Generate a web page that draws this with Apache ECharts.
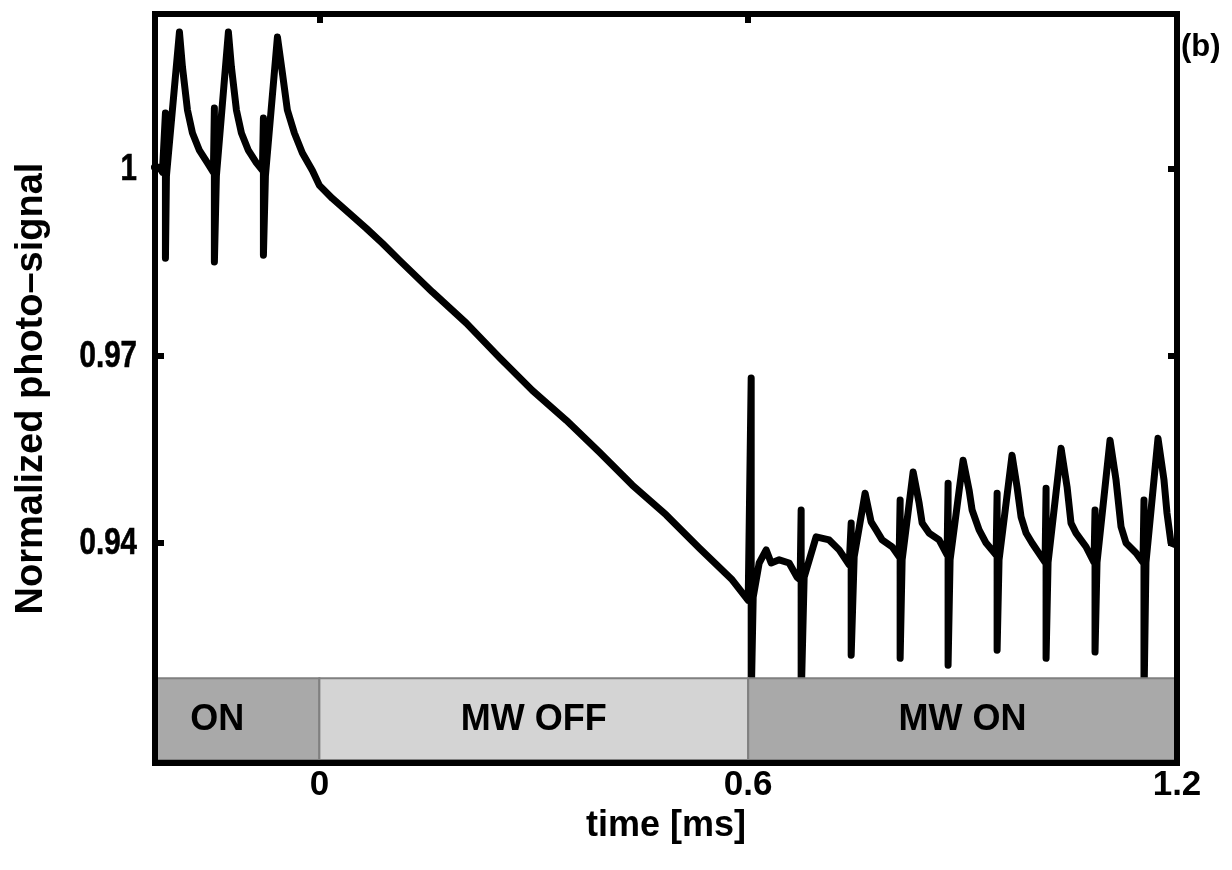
<!DOCTYPE html>
<html><head><meta charset="utf-8">
<script src="https://cdn.jsdelivr.net/npm/echarts@6/dist/echarts.min.js"></script>
<style>html,body{margin:0;padding:0;background:#fff}#c{width:1232px;height:870px}</style>
</head><body><div id="c"></div>
<script>
// time [ms]
const timeMs = [
  -0.2308,-0.2238,-0.2196,-0.2154,-0.2154,-0.2140,-0.1958,-0.1916,-0.1846,-0.1776,-0.1678,-0.1566,-0.1483,
  -0.1469,-0.1469,-0.1441,-0.1273,-0.1231,-0.1161,-0.1091,-0.0993,-0.0881,-0.0797,
  -0.0783,-0.0783,-0.0755,-0.0587,-0.0517,-0.0448,-0.0350,-0.0238,-0.0098,
  0.0000,0.0182,0.0420,0.0657,0.0881,0.1119,0.1580,0.2056,0.2517,0.2979,0.3455,0.3916,0.4378,0.4853,0.5315,0.5776,0.6000,
  0.6042,0.6042,0.6070,0.6154,0.6252,0.6322,0.6434,0.6573,0.6685,0.6727,
  0.6741,0.6741,0.6783,0.6951,0.7133,0.7273,0.7413,
  0.7441,0.7441,0.7483,0.7636,0.7720,0.7790,0.7874,0.8014,0.8112,
  0.8126,0.8126,0.8154,0.8308,0.8392,0.8434,0.8531,0.8671,0.8783,
  0.8797,0.8797,0.8825,0.9007,0.9091,0.9133,0.9231,0.9329,0.9469,
  0.9483,0.9483,0.9510,0.9692,0.9762,0.9818,0.9888,0.9972,1.0154,
  1.0168,1.0168,1.0196,1.0378,1.0462,1.0517,1.0587,1.0727,1.0839,
  1.0853,1.0853,1.0881,1.1063,1.1147,1.1217,1.1287,1.1427,1.1524,
  1.1538,1.1538,1.1566,1.1734,1.1818,1.1860,1.1916,1.1986
];
// Normalized photo-signal
const signal = [
  1.0003,1.0003,0.9995,1.0090,0.9857,0.9989,1.0220,1.0164,1.0095,1.0058,1.0030,1.0010,0.9995,
  1.0098,0.9851,0.9989,1.0220,1.0164,1.0095,1.0058,1.0030,1.0010,0.9998,
  1.0082,0.9862,0.9989,1.0212,1.0154,1.0095,1.0058,1.0026,0.9998,
  0.9974,0.9953,0.9929,0.9905,0.9881,0.9854,0.9803,0.9753,0.9698,0.9645,0.9597,0.9546,0.9493,0.9445,0.9392,0.9341,0.9308,
  0.9665,0.9148,0.9313,0.9368,0.9389,0.9368,0.9373,0.9368,0.9345,0.9341,
  0.9453,0.9148,0.9345,0.9410,0.9405,0.9389,0.9365,
  0.9432,0.9220,0.9378,0.9480,0.9434,0.9421,0.9405,0.9394,0.9378,
  0.9469,0.9215,0.9373,0.9514,0.9464,0.9432,0.9416,0.9405,0.9381,
  0.9496,0.9204,0.9373,0.9533,0.9485,0.9453,0.9421,0.9400,0.9381,
  0.9480,0.9228,0.9373,0.9541,0.9490,0.9442,0.9416,0.9400,0.9369,
  0.9488,0.9215,0.9369,0.9552,0.9490,0.9432,0.9416,0.9394,0.9369,
  0.9453,0.9225,0.9369,0.9565,0.9501,0.9426,0.9400,0.9384,0.9369,
  0.9469,0.9148,0.9369,0.9568,0.9501,0.9448,0.9400,0.9397
];
const xTicks = [0, 0.6, 1.2];
const yTicks = [0.94, 0.97, 1];
const regionNames = ['ON', 'MW OFF', 'MW ON'];
const regionStart = [-0.23, 0, 0.6];
const regionEnd = [0, 0.6, 1.2];
const regionLabelAt = [-0.143, 0.3, 0.9];
const regionTop = 0.9183;
const regionBottom = 0.9052;

const X_MIN = -0.23, X_MAX = 1.2, Y_MIN = 0.9047, Y_MAX = 1.0249;
const regionFill = ['#a9a9a9', '#d4d4d4', '#a9a9a9'];

const lineData = timeMs.map((t, i) => [t, signal[i]]);
const regionData = regionNames.map((n, i) => [regionStart[i], regionEnd[i], regionLabelAt[i]]);
const yLabelData = yTicks.map(v => [X_MIN, v]);

const sans = "'Liberation Sans', Arial, sans-serif";
const axisLine = { show: true, onZero: false, lineStyle: { color: '#000', width: 6, cap: 'square' } };
const tickStyle = { color: '#000', width: 6 };

const chart = echarts.init(document.getElementById('c'), null, { renderer: 'canvas' });
chart.setOption({
  animation: false,
  backgroundColor: '#fff',
  grid: { left: 155, right: 55, top: 14, bottom: 107, containLabel: false },
  graphic: [{
    type: 'text', left: 1181, top: 32, z: 20,
    style: { text: '(b)', font: 'bold 31px ' + sans, fill: '#000' }
  }],
  xAxis: [{
    type: 'value', position: 'bottom', min: X_MIN, max: X_MAX, z: 10,
    axisLine: axisLine, splitLine: { show: false },
    axisTick: { show: false },
    axisLabel: { show: true, customValues: xTicks, margin: 5, color: '#000',
      fontFamily: sans, fontWeight: 'bold', fontSize: 35,
      formatter: v => String(+v.toFixed(2)) },
    name: 'time [ms]', nameLocation: 'middle', nameGap: 40,
    nameTextStyle: { color: '#000', fontFamily: sans, fontWeight: 'bold', fontSize: 36 }
  }, {
    type: 'value', position: 'top', min: X_MIN, max: X_MAX, z: 10,
    axisLine: axisLine, splitLine: { show: false },
    axisTick: { show: true, inside: true, length: 9, customValues: xTicks, lineStyle: tickStyle },
    axisLabel: { show: false }
  }],
  yAxis: [{
    type: 'value', position: 'left', min: Y_MIN, max: Y_MAX, z: 10,
    axisLine: axisLine, splitLine: { show: false },
    axisTick: { show: true, inside: true, length: 9, customValues: yTicks, lineStyle: tickStyle },
    axisLabel: { show: false },
    name: 'Normalized photo–signal', nameLocation: 'middle', nameGap: 104, nameRotate: 90,
    nameTextStyle: { color: '#000', fontFamily: sans, fontWeight: 'bold', fontSize: 38 }
  }, {
    type: 'value', position: 'right', min: Y_MIN, max: Y_MAX, z: 10,
    axisLine: axisLine, splitLine: { show: false },
    axisTick: { show: true, inside: true, length: 9, customValues: yTicks, lineStyle: tickStyle },
    axisLabel: { show: false }
  }],
  series: [{
    type: 'line', xAxisIndex: 0, yAxisIndex: 0, z: 2,
    data: lineData, showSymbol: false, symbol: 'none', smooth: false,
    lineStyle: { color: '#000', width: 7, join: 'round', cap: 'round' },
    clip: true, silent: true
  }, {
    type: 'custom', xAxisIndex: 0, yAxisIndex: 0, z: 5, clip: false, silent: true,
    data: regionData,
    renderItem: function (params, api) {
      const i = params.dataIndex;
      const p0 = api.coord([api.value(0), regionTop]);
      const p1 = api.coord([api.value(1), regionBottom]);
      const pl = api.coord([api.value(2), (regionTop + regionBottom) / 2]);
      return {
        type: 'group',
        children: [{
          type: 'rect',
          shape: { x: p0[0], y: p0[1], width: p1[0] - p0[0], height: p1[1] - p0[1] },
          style: { fill: regionFill[i], stroke: '#808080', lineWidth: 2 }
        }, {
          type: 'text',
          style: { text: regionNames[i], x: pl[0], y: pl[1] + 1, align: 'center', verticalAlign: 'middle',
            font: 'bold 36px ' + sans, fill: '#000' }
        }]
      };
    }
  }, {
    // y tick labels (tall, narrow digits as in the reference)
    type: 'custom', xAxisIndex: 0, yAxisIndex: 0, z: 10, clip: false, silent: true,
    data: yLabelData,
    renderItem: function (params, api) {
      const p = api.coord([api.value(0), api.value(1)]);
      return {
        type: 'text', x: p[0] - 18, y: p[1] + 1, scaleX: 0.82,
        style: { text: String(yTicks[params.dataIndex]), x: 0, y: 0, align: 'right', verticalAlign: 'middle',
          font: 'bold 36px ' + sans, fill: '#000', stroke: '#000', lineWidth: 0.6 }
      };
    }
  }]
});
</script></body></html>
